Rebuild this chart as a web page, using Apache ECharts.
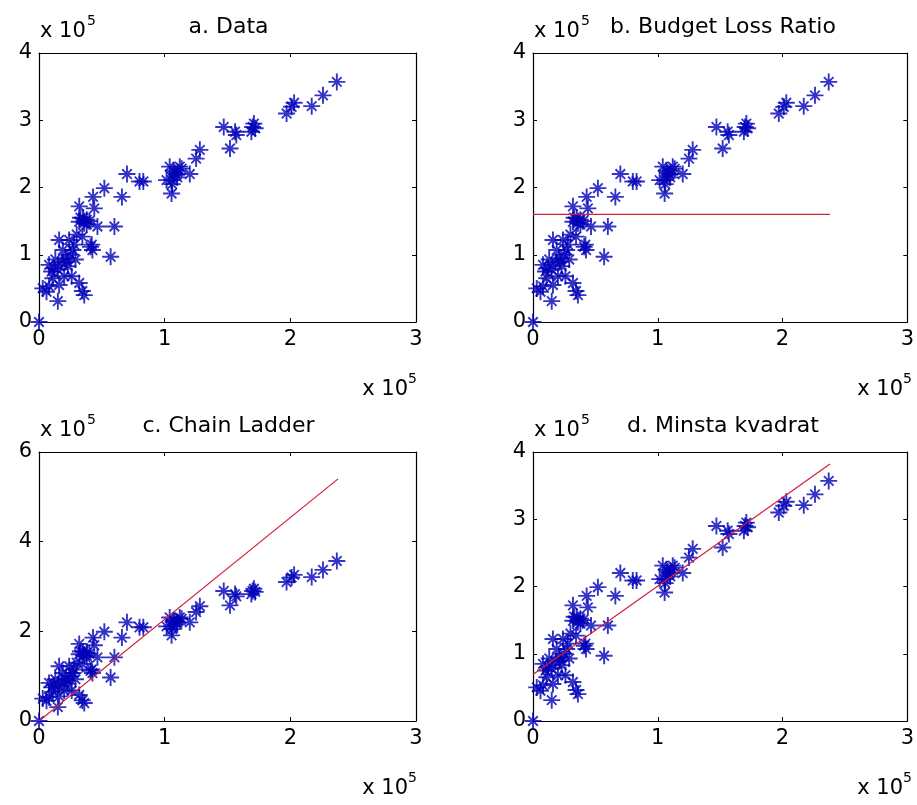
<!DOCTYPE html>
<html>
<head>
<meta charset="utf-8">
<script src="https://cdn.jsdelivr.net/npm/echarts@6/dist/echarts.min.js"></script>
<style>
  html, body { margin: 0; padding: 0; background: #ffffff; }
  #chart { width: 917px; height: 805px; }
</style>
</head>
<body>
<div id="chart"></div>
<script>
// Paid vs. reported claims (both in units of 1, axes scaled by 10^5)
const claimsX = [
  0, 237000, 226000, 217000, 203000, 201000, 197000, 171000, 172000, 169000,
  147000, 156000, 152000, 128000, 125000, 120000, 113500, 112000, 109500, 104000,
  105500, 101500, 105500, 108000, 83000, 80000, 70000, 52000, 66000, 43000,
  44000, 32000, 36000, 32000, 38000, 46500, 60000, 41000, 42500, 57000,
  34500, 16000, 24000, 19000, 27000, 13000, 21000, 8000, 15000, 23000,
  29000, 20000, 11000, 8000, 3000, 32000, 34500, 36000, 15000, 26000,
  16000, 12000, 18000, 25000, 22000, 28000, 10000, 6000, 30000, 33000,
  40000, 42000, 157000, 107000, 110000, 106000, 35000, 38000, 170000
];
const claimsY = [
  0, 357000, 337000, 321000, 326000, 320000, 310000, 295000, 288000, 283000,
  290000, 283000, 258000, 256000, 243000, 220000, 228000, 231000, 219000, 231000,
  211000, 211000, 191000, 222000, 209000, 209000, 220000, 199000, 186000, 186000,
  169000, 172000, 147000, 149000, 152000, 142000, 142000, 112000, 107000, 97000,
  127000, 122000, 122000, 107000, 107000, 93000, 95000, 85000, 78000, 83000,
  93000, 68000, 65000, 53000, 50000, 58000, 46000, 40000, 31000, 68000,
  55000, 80000, 88000, 100000, 90000, 115000, 75000, 45000, 130000, 155000,
  150000, 115000, 278000, 225000, 215000, 205000, 155000, 145000, 290000
];

// Fitted reserve lines (end points at 0 and the largest paid amount)
const budgetLossX = [0, 238000];
const budgetLossY = [160000, 160000];
const chainLadderX = [0, 238000];
const chainLadderY = [0, 540000];
const leastSquaresX = [0, 238000];
const leastSquaresY = [69000, 382000];

const panelTitles = ['a. Data', 'b. Budget Loss Ratio', 'c. Chain Ladder', 'd. Minsta kvadrat'];
const xAxisMax = 300000, xAxisStep = 100000;
const yAxisMax = [400000, 400000, 600000, 400000];
const yAxisStep = [100000, 100000, 200000, 100000];
const axisScale = 100000;

const FONT = 'DejaVu Sans';
const BLUE = '#0000b8';
const RED = '#d2203a';

const grids = [
  { left: 39,  top: 53,  width: 377, height: 269 },
  { left: 533, top: 53,  width: 378, height: 269 },
  { left: 39,  top: 452, width: 377, height: 269 },
  { left: 533, top: 452, width: 378, height: 269 }
];

const fitLines = [
  null,
  [budgetLossX, budgetLossY],
  [chainLadderX, chainLadderY],
  [leastSquaresX, leastSquaresY]
];

const points = claimsX.map((x, i) => [x, claimsY[i]]);

// MATLAB-style '*' marker: long plus arms with shorter diagonals
const starPath = 'path://M8,0L8,16M0,8L16,8M3.5,3.5L12.5,12.5M3.5,12.5L12.5,3.5';

const tickStyle = { inside: true, length: 4, lineStyle: { color: '#000', width: 1 } };
const lineStyle = { onZero: false, lineStyle: { color: '#000', width: 1.2 } };

const xAxes = [], yAxes = [], series = [], titles = [], graphics = [];

grids.forEach((g, i) => {
  const xBase = {
    type: 'value', gridIndex: i, min: 0, max: xAxisMax, interval: xAxisStep,
    axisLine: lineStyle, axisTick: tickStyle, splitLine: { show: false }
  };
  const yBase = {
    type: 'value', gridIndex: i, min: 0, max: yAxisMax[i], interval: yAxisStep[i],
    axisLine: lineStyle, axisTick: tickStyle, splitLine: { show: false }
  };
  xAxes.push(Object.assign({}, xBase, {
    position: 'bottom',
    axisLabel: { color: '#000', fontFamily: FONT, fontSize: 21, margin: 7,
                 formatter: v => String(v / axisScale) }
  }));
  xAxes.push(Object.assign({}, xBase, { position: 'top', axisLabel: { show: false } }));
  yAxes.push(Object.assign({}, yBase, {
    position: 'left',
    axisLabel: { color: '#000', fontFamily: FONT, fontSize: 21, margin: 7,
                 formatter: v => String(v / axisScale) }
  }));
  yAxes.push(Object.assign({}, yBase, { position: 'right', axisLabel: { show: false } }));

  series.push({
    type: 'scatter', xAxisIndex: 2 * i, yAxisIndex: 2 * i,
    data: points, symbol: starPath, symbolSize: 17, clip: false,
    itemStyle: { color: 'transparent', borderColor: BLUE, borderWidth: 1.9 },
    z: 2
  });
  if (fitLines[i]) {
    const [lx, ly] = fitLines[i];
    series.push({
      type: 'line', xAxisIndex: 2 * i, yAxisIndex: 2 * i,
      data: lx.map((x, k) => [x, ly[k]]), symbol: 'none',
      lineStyle: { color: RED, width: 1.2 }, z: 3
    });
  }

  titles.push({
    text: panelTitles[i], left: g.left + g.width / 2 - 4, top: g.top - 42, textAlign: 'center',
    textStyle: { fontFamily: FONT, fontSize: 22, fontWeight: 'normal', color: '#000' }
  });

  // exponent labels: above the y axis and below the x axis end
  const expTop = g.top - 21;
  graphics.push({ type: 'text', style: { text: 'x 10', x: g.left + 1, y: expTop,
    textVerticalAlign: 'middle', font: '21px "' + FONT + '"', fill: '#000' } });
  graphics.push({ type: 'text', style: { text: '5', x: g.left + 48, y: expTop - 11,
    textVerticalAlign: 'middle', font: '14px "' + FONT + '"', fill: '#000' } });
  const expBot = g.top + g.height + 68;
  const xr = g.left + g.width - 8;
  graphics.push({ type: 'text', style: { text: 'x 10', x: xr, y: expBot,
    textAlign: 'right', textVerticalAlign: 'middle', font: '21px "' + FONT + '"', fill: '#000' } });
  graphics.push({ type: 'text', style: { text: '5', x: xr, y: expBot - 11,
    textAlign: 'left', textVerticalAlign: 'middle', font: '14px "' + FONT + '"', fill: '#000' } });
});

const chart = echarts.init(document.getElementById('chart'), null, { renderer: 'canvas' });
chart.setOption({
  animation: false,
  backgroundColor: '#ffffff',
  title: titles,
  grid: grids,
  xAxis: xAxes,
  yAxis: yAxes,
  series: series,
  graphic: graphics
});
</script>
</body>
</html>
